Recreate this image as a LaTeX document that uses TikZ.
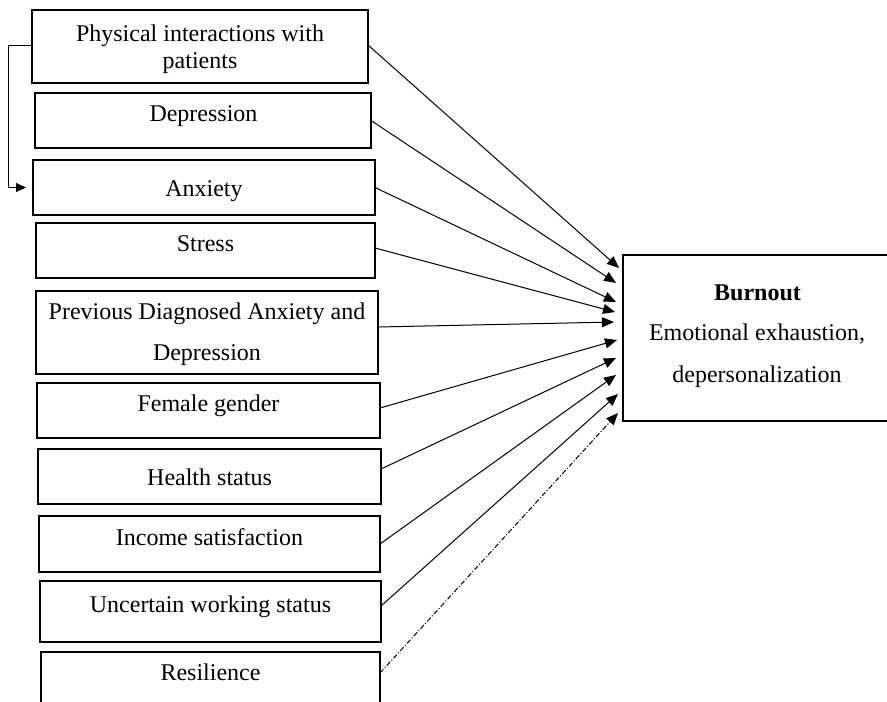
\documentclass[tikz,border=0pt]{standalone}
\usepackage{fontspec}
\setmainfont{Liberation Serif}
\usetikzlibrary{arrows.meta,calc}
\begin{document}
\begin{tikzpicture}[x=1pt,y=-1pt,
  box/.style={draw,line width=1.9pt,inner sep=0pt,outer sep=0pt},
  txt/.style={inner sep=0pt,anchor=base,font=\fontsize{24}{28}\selectfont},
  conn/.style={line width=1pt,-{Triangle[length=12pt,width=10pt]}},
  dashconn/.style={conn,dash pattern=on 5pt off 2pt on 1pt off 2pt}]
\useasboundingbox (0,0) rectangle (887,702);
\clip (0,0) rectangle (887,702);
% left boxes
\node[box,minimum width=336pt,minimum height=73pt] (phys) at (200,46.5) {};
\node[box,minimum width=336pt,minimum height=55pt] (dep) at (203,120.5) {};
\node[box,minimum width=342pt,minimum height=55pt] (anx) at (204,187.5) {};
\node[box,minimum width=339pt,minimum height=55pt] (str) at (205.5,250.5) {};
\node[box,minimum width=342pt,minimum height=83pt] (prev) at (207,332.5) {};
\node[box,minimum width=343pt,minimum height=55pt] (fem) at (208.5,410.5) {};
\node[box,minimum width=343pt,minimum height=55pt] (hea) at (209.5,476.5) {};
\node[box,minimum width=341pt,minimum height=56pt] (inc) at (209.5,544) {};
\node[box,minimum width=341pt,minimum height=61pt] (unc) at (210.5,611.5) {};
\node[box,minimum width=339pt,minimum height=70pt] (res) at (210.5,687) {};
% right box
\node[box,minimum width=280pt,minimum height=166pt] (burn) at (763,338) {};
% texts
\node[txt] (tphysa) at (200,41.7) {Physical interactions with};
\node[txt] (tphysb) at (200,68) {patients};
\node[txt] (tdep) at (203.5,121.7) {Depression};
\node[txt] (tanx) at (204,196.7) {Anxiety};
\node[txt] (tstr) at (205.5,251.7) {Stress};
\node[txt] (tpreva) at (207,319.3) {Previous Diagnosed Anxiety and};
\node[txt] (tprevb) at (207,360) {Depression};
\node[txt] (tfem) at (208.5,411.7) {Female gender};
\node[txt] (thea) at (209.5,485) {Health status};
\node[txt] (tinc) at (209.5,545) {Income satisfaction};
\node[txt] (tunc) at (210.5,612.3) {Uncertain working status};
\node[txt] (tres) at (210.5,680) {Resilience};
\node[txt] (tburna) at (757.5,300) {\textbf{Burnout}};
\node[txt] (tburnb) at (757,340) {Emotional exhaustion,};
\node[txt] (tburnc) at (757,382) {depersonalization};
% arrow tips
\coordinate (t1) at (619,268);
\coordinate (t2) at (616,283);
\coordinate (t3) at (616,302);
\coordinate (t4) at (615,312);
\coordinate (t5) at (614,322);
\coordinate (t6) at (617,340);
\coordinate (t7) at (616,358);
\coordinate (t8) at (616,375);
\coordinate (t9) at (618,394);
\coordinate (t10) at (618,413);
% connectors
\draw[conn] ([yshift=1.5pt]phys.east) -- (t1);
\draw[conn] (dep.east) -- (t2);
\draw[conn] (anx.east) -- (t3);
\draw[conn] ([yshift=2.5pt]str.east) -- (t4);
\draw[conn] ([yshift=5.5pt]prev.east) -- (t5);
\draw[conn] ([yshift=2.5pt]fem.east) -- (t6);
\draw[conn] ([yshift=7.5pt]hea.east) -- (t7);
\draw[conn] (inc.east) -- (t8);
\draw[conn] ([yshift=5.5pt]unc.east) -- (t9);
\draw[dashconn] ([yshift=-21pt]res.north east) -- (t10);
% bracket from physical to anxiety
\coordinate (bk) at (8,45);
\draw[line width=1pt,-{Triangle[length=10pt,width=9pt]}]
  ([yshift=1.5pt]phys.west) -| (bk |- anx.west) -- ([xshift=-7pt]anx.west);
\end{tikzpicture}
\end{document}
